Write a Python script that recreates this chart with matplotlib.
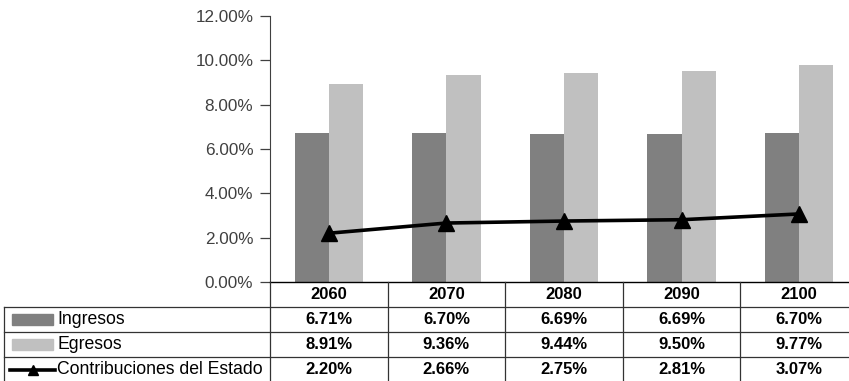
import matplotlib
matplotlib.use("Agg")
import matplotlib.pyplot as plt
from matplotlib.lines import Line2D
from matplotlib.patches import Rectangle
import matplotlib.transforms as mtransforms
import numpy as np

plt.rcParams['font.family'] = ['Liberation Sans', 'DejaVu Sans']

years = ["2060", "2070", "2080", "2090", "2100"]
ingresos = [6.71, 6.70, 6.69, 6.69, 6.70]
egresos = [8.91, 9.36, 9.44, 9.50, 9.77]
contribuciones = [2.20, 2.66, 2.75, 2.81, 3.07]
series_names = ["Ingresos", "Egresos", "Contribuciones del Estado"]
yticks = [0, 2, 4, 6, 8, 10, 12]

W, H = 849, 381
fig = plt.figure(figsize=(W / 100, H / 100), dpi=100)

def px(x, y):
    # pixel (from top-left) to figure fraction
    return x / W, 1 - y / H

x0, y_top, x1, y_bot = 270, 16, 858, 282
ax = fig.add_axes([x0 / W, 1 - y_bot / H, (x1 - x0) / W, (y_bot - y_top) / H])

x = np.arange(len(years))
bw = 0.29
ax.bar(x - bw / 2, ingresos, bw, color="#808080", zorder=2)
ax.bar(x + bw / 2, egresos, bw, color="#c0c0c0", zorder=2)
ax.plot(x, contribuciones, color="black", lw=2.6, marker="^", ms=11,
        zorder=3, clip_on=False)

ax.set_xlim(-0.5, len(years) - 0.5)
ax.set_ylim(0, 12)
ax.set_yticks(yticks)
ax.set_yticklabels([f"{v:.2f}%" for v in yticks], fontsize=12.3, color="#404040")
ax.set_xticks([])
ax.tick_params(axis="y", direction="out", length=7, width=0.9, color="#404040", pad=5)
for s in ("top", "right"):
    ax.spines[s].set_visible(False)
ax.spines["left"].set_color("#404040")
ax.spines["bottom"].set_color("black")
ax.spines["bottom"].set_linewidth(1.0)

# data table under the plot
row_y = [282, 307, 332, 357, 382]
lc = "#333333"
xt = mtransforms.blended_transform_factory(ax.transData, fig.transFigure)

# horizontal rules
for yy in row_y[1:]:
    fig.add_artist(Line2D([4 / W, 1], [px(0, yy)[1]] * 2, color=lc, lw=0.9))
# left border of the label column
fig.add_artist(Line2D([4 / W] * 2, [px(0, row_y[1])[1], 0], color=lc, lw=0.9))
# column separators
for k in range(len(years)):
    fig.add_artist(Line2D([k - 0.5] * 2, [px(0, row_y[0])[1], 0], color=lc,
                          lw=0.9, transform=xt))

def row_mid(i):
    return px(0, (row_y[i] + row_y[i + 1]) / 2)[1]

for k, yr in enumerate(years):
    fig.text(k, row_mid(0), yr, transform=xt, ha="center", va="center",
             fontsize=12, fontweight="bold")

for r, vals in enumerate([ingresos, egresos, contribuciones], start=1):
    for k, v in enumerate(vals):
        fig.text(k, row_mid(r), f"{v:.2f}%", transform=xt, ha="center",
                 va="center", fontsize=12, fontweight="bold")
    fig.text(57 / W, row_mid(r), series_names[r - 1], ha="left", va="center",
             fontsize=12.7)

# legend keys
for r, col in ((1, "#808080"), (2, "#c0c0c0")):
    ym = (row_y[r] + row_y[r + 1]) / 2
    fig.add_artist(Rectangle(px(12, ym + 5.5), 41 / W, 11 / H, color=col))
ym = (row_y[3] + row_y[4]) / 2
fig.add_artist(Line2D([10 / W, 55 / W], [px(0, ym)[1]] * 2, color="black", lw=2.6))
fig.add_artist(Line2D([33 / W], [px(0, ym)[1]], color="black", marker="^", ms=7))

fig.savefig("out.png", dpi=100)
